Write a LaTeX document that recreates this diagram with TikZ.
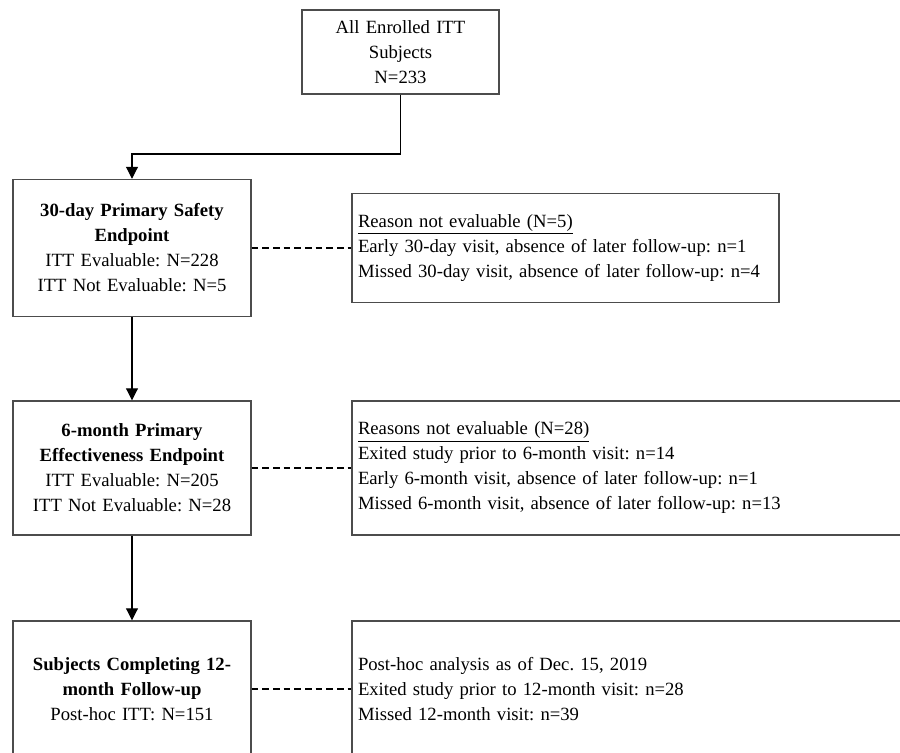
\documentclass[tikz,border=0pt]{standalone}
\usepackage{fontspec}
\setmainfont{Liberation Serif}
\usetikzlibrary{arrows.meta}
\frenchspacing

\begin{document}
\begin{tikzpicture}[
  x=0.75pt,y=-0.75pt,
  box/.style={
    draw=black!70,
    line width=1.1pt,
    inner xsep=3pt,
    inner ysep=0pt,
    font=\fontsize{14}{18.75}\selectfont
  },
  stagebox/.style={
    box,
    align=center,
    text width=172.5pt,
    minimum height=102pt
  },
  reasonbox/.style={
    box,
    align=left,
    inner xsep=4.5pt
  },
  flow/.style={line width=.8pt,black,-{Triangle[width=9pt,length=9pt]}},
  link/.style={line width=1pt,black,dash pattern=on 5pt off 3pt}
]
  \useasboundingbox (0,0) rectangle (900,753);
  \clip (0,0) rectangle (900,753);

  % Main column: enrolled subjects and the three endpoints.
  \node[box,align=center,text width=141.75pt,minimum height=63pt]
    (enrolled) at (400.5,52) {All Enrolled ITT\\Subjects\\N=233};
  \node[stagebox,minimum height=102.75pt] (safety) at (132,248)
    {\textbf{30-day Primary Safety}\\\textbf{Endpoint}\\
     ITT Evaluable: N=228\\ITT Not Evaluable: N=5};
  \node[stagebox,minimum height=100.5pt] (effect) at (132,468)
    {\textbf{6-month Primary}\\\textbf{Effectiveness Endpoint}\\
     ITT Evaluable: N=205\\ITT Not Evaluable: N=28};
  \node[stagebox] (follow) at (132,689)
    {\textbf{Subjects Completing 12-}\\\textbf{month Follow-up}\\
     Post-hoc ITT: N=151};

  % Side boxes: reasons for missing data.
  \node[reasonbox,text width=311.25pt,minimum height=81.75pt]
    (reason1) at (565.5,248)
    {\underline{Reason not evaluable (N=5)}\\
     Early 30-day visit, absence of later follow-up: n=1\\
     Missed 30-day visit, absence of later follow-up: n=4};
  \node[reasonbox,text width=409.5pt,minimum height=100.5pt]
    (reason2) at (631,468)
    {\underline{Reasons not evaluable (N=28)}\\
     Exited study prior to 6-month visit: n=14\\
     Early 6-month visit, absence of later follow-up: n=1\\
     Missed 6-month visit, absence of later follow-up: n=13};
  \node[reasonbox,text width=409.5pt,minimum height=102pt]
    (reason3) at (631,689)
    {Post-hoc analysis as of Dec. 15, 2019\\
     Exited study prior to 12-month visit: n=28\\
     Missed 12-month visit: n=39};

  % Connectors.
  \coordinate (bend) at (132,154);
  \draw[flow] (enrolled.south) |- (bend) -- (safety.north);
  \draw[flow] (safety) -- (effect);
  \draw[flow] (effect) -- (follow);
  \draw[link] (safety) -- (reason1);
  \draw[link] (effect) -- (reason2);
  \draw[link] (follow) -- (reason3);
\end{tikzpicture}
\end{document}
